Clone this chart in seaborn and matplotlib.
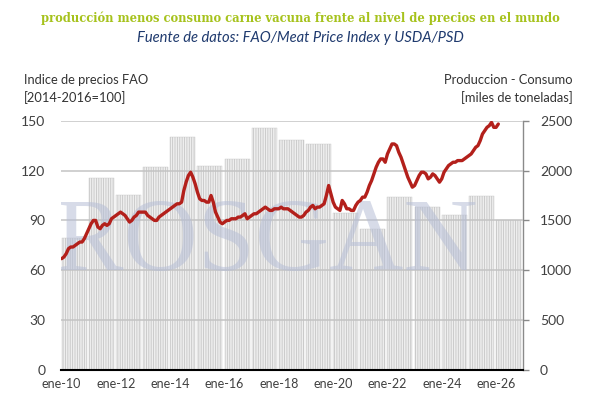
import numpy as np
import pandas as pd
import seaborn as sns
import matplotlib.pyplot as plt

# Indice FAO de precios de carne vacuna (2014-2016=100), mensual desde ene-2010
inicio = "2010-01"
precio_fao = [
    67, 68, 70, 73, 74, 74, 75, 76, 77, 77, 79, 82,         # 2010
    85, 88, 90, 90, 86, 85, 87, 88, 87, 88, 91, 92,         # 2011
    93, 94, 95, 94, 93, 91, 89, 90, 92, 93, 95, 95,         # 2012
    95, 95, 93, 92, 91, 90, 90, 92, 93, 94, 95, 96,         # 2013
    97, 98, 99, 100, 100, 101, 108, 113, 117, 119, 116, 112,  # 2014
    107, 103, 102, 102, 101, 101, 105, 101, 95, 92, 89, 88,  # 2015
    89, 90, 90, 91, 91, 91, 92, 92, 93, 94, 91, 92,         # 2016
    93, 94, 94, 95, 96, 97, 98, 97, 96, 96, 97, 97,         # 2017
    97, 98, 97, 97, 97, 96, 95, 94, 93, 92, 92, 93,         # 2018
    95, 96, 98, 99, 97, 98, 98, 99, 100, 105, 111, 106,     # 2019
    101, 98, 97, 96, 102, 100, 97, 97, 96, 96, 99, 101,     # 2020
    102, 104, 104, 107, 111, 114, 118, 122, 125, 127, 127, 125,  # 2021
    130, 133, 136, 136, 135, 131, 128, 124, 120, 116, 113, 110,  # 2022
    111, 114, 117, 119, 119, 118, 115, 116, 118, 117, 115, 113,  # 2023
    115, 119, 121, 123, 124, 125, 125, 126, 126, 126, 127, 128,  # 2024
    129, 130, 132, 134, 135, 138, 142, 144, 146, 147, 149, 146,  # 2025
    146, 148,                                                # 2026
]

# Produccion - consumo mundial de carne vacuna, miles de toneladas (anual)
anios = [2010, 2011, 2012, 2013, 2014, 2015, 2016, 2017, 2018,
         2019, 2020, 2021, 2022, 2023, 2024, 2025, 2026]
prod_menos_cons = [1320, 1930, 1750, 2040, 2340, 2050, 2120, 2430, 2310,
                   2270, 1570, 1410, 1730, 1630, 1550, 1740, 1500]

ticks_x = [2010, 2012, 2014, 2016, 2018, 2020, 2022, 2024, 2026]
ticks_lbl = ["ene-10", "ene-12", "ene-14", "ene-16", "ene-18",
             "ene-20", "ene-22", "ene-24", "ene-26"]

sns.set_style("white")
plt.rcParams['font.family'] = ['Lato', 'DejaVu Sans']
plt.rcParams['hatch.linewidth'] = 0.6

fechas = pd.date_range(inicio, periods=len(precio_fao), freq="MS")
x_linea = fechas.year + (fechas.month - 1) / 12
x_barras = np.array(anios) + 0.46

fig = plt.figure(figsize=(6, 3.99), dpi=100)
ax = fig.add_axes([0.101, 0.0727, 0.771, 0.6248])
ax2 = ax.twinx()

# barras en el eje derecho
sns.barplot(x=x_barras, y=prod_menos_cons, native_scale=True, width=0.92,
            color="#eeeeee", edgecolor="#c6c6c6", hatch="|||||||",
            linewidth=0.3, saturation=1, ax=ax2)

# linea de precios en el eje izquierdo
ax.set_zorder(ax2.get_zorder() + 1)
ax.patch.set_visible(False)
sns.lineplot(x=x_linea, y=precio_fao, color="#b3201b", linewidth=2.4,
             ax=ax, zorder=3)

# marca de agua
ax.text(0.445, 0.50, "ROSGAN", transform=ax.transAxes, ha="center", va="center",
        fontsize=74, family="Liberation Serif", color="#b6bed6", alpha=0.55,
        zorder=1, clip_on=True)

ax.set_xlim(2009.96, 2027.0)
ax.set_ylim(0, 150)
ax2.set_ylim(0, 2500)
ax.set_yticks([0, 30, 60, 90, 120, 150])
ax2.set_yticks([0, 500, 1000, 1500, 2000, 2500])
ax.set_xticks(ticks_x)
ax.set_xticklabels(ticks_lbl)

ax.yaxis.grid(True, color="#c3c3c3", linewidth=1.1)
ax.xaxis.grid(False)
ax2.grid(False)

for s in ["left", "top", "right"]:
    ax.spines[s].set_visible(False)
ax.spines["bottom"].set_color("black")
ax.spines["bottom"].set_linewidth(1.5)
for s in ["left", "top", "bottom"]:
    ax2.spines[s].set_visible(False)
ax2.spines["right"].set_color("#8a8a8a")
ax2.spines["right"].set_linewidth(1.0)

ax.tick_params(axis="y", length=0, pad=11, labelsize=10, labelcolor="#404040")
ax.tick_params(axis="x", direction="out", length=4, width=1.3, color="black",
               pad=2, labelsize=9, labelcolor="#404040")
ax2.tick_params(axis="y", direction="out", length=4, width=1, color="#8a8a8a",
                pad=8, labelsize=10, labelcolor="#404040")
ax2.tick_params(axis="x", bottom=False, labelbottom=False)
for a in (ax, ax2):
    a.set_xlabel("")
    a.set_ylabel("")

fig.text(0.5, 1 - 18 / 399,
         "producción menos consumo carne vacuna frente al nivel de precios en el mundo",
         ha="center", va="center", fontsize=8.3, family="DejaVu Serif",
         weight="bold", color="#a6c21c")
fig.text(0.5, 1 - 38 / 399, "Fuente de datos: FAO/Meat Price Index y USDA/PSD",
         ha="center", va="center", fontsize=10.6, style="italic", color="#1f3a6e")

fig.text(24 / 600, 1 - 80 / 399, "Indice de precios FAO", ha="left", va="center",
         fontsize=9.3, color="#333333")
fig.text(24 / 600, 1 - 98 / 399, "[2014-2016=100]", ha="left", va="center",
         fontsize=9.3, color="#333333")
fig.text(573 / 600, 1 - 80 / 399, "Produccion - Consumo", ha="right", va="center",
         fontsize=9.3, color="#333333")
fig.text(573 / 600, 1 - 98 / 399, "[miles de toneladas]", ha="right", va="center",
         fontsize=9.3, color="#333333")

fig.savefig("out.png", dpi=100)
